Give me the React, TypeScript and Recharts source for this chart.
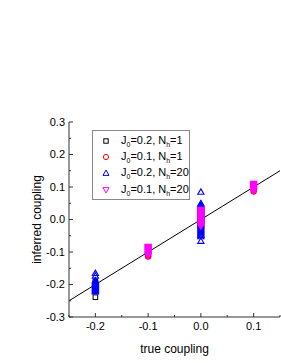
import React from 'react';
import { ScatterChart, Scatter, XAxis, YAxis, ReferenceLine } from 'recharts';

// ---- data ----
const xTicks = [-0.25, -0.2, -0.15, -0.1, -0.05, 0, 0.05, 0.1, 0.15];
const xMajor = [-0.2, -0.1, 0, 0.1];
const yTicks = [-0.3, -0.25, -0.2, -0.15, -0.1, -0.05, 0, 0.05, 0.1, 0.15, 0.2, 0.25, 0.3];
const yMajor = [-0.3, -0.2, -0.1, 0, 0.1, 0.2, 0.3];

// J0=0.2, Nh=1 (black squares)
const sqX = [-0.2, -0.2, -0.2, -0.2, -0.2, -0.2, -0.2, 0, 0, 0, 0, 0, 0];
const sqY = [-0.239, -0.214, -0.21, -0.206, -0.201, -0.196, -0.191, -0.03, -0.018, -0.006, 0.006, 0.018, 0.03];

// J0=0.1, Nh=1 (red circles)
const ciX = [-0.1, -0.1, -0.1, -0.1, -0.1, -0.1, -0.1, 0, 0, 0, 0, 0, 0.1, 0.1, 0.1, 0.1, 0.1];
const ciY = [-0.114, -0.11, -0.105, -0.1, -0.095, -0.09, -0.086, -0.02, -0.01, 0, 0.01, 0.02, 0.087, 0.092, 0.097, 0.102, 0.107];

// J0=0.2, Nh=20 (blue triangles)
const trX = [
  -0.2, -0.2, -0.2, -0.2, -0.2, -0.2, -0.2, -0.2, -0.2, -0.2, -0.2, -0.2, -0.2, -0.2, -0.2,
  0, 0, 0, 0, 0, 0, 0, 0, 0, 0, 0, 0, 0, 0, 0, 0, 0, 0, 0, 0, 0, 0, 0, 0, 0, 0, 0, 0, 0, 0, 0, 0, 0, 0, 0, 0, 0,
];
const trY = [
  -0.165, -0.173, -0.187, -0.19, -0.193, -0.196, -0.199, -0.202, -0.205, -0.208, -0.211, -0.214, -0.217, -0.22, -0.222,
  0.085, 0.05, 0.047, 0.044, 0.041, 0.038, 0.035, 0.032, 0.029, 0.026, 0.023, 0.02, 0.017, 0.014, 0.011, 0.008,
  0.005, 0.002, -0.001, -0.004, -0.007, -0.01, -0.013, -0.016, -0.019, -0.022, -0.025, -0.028, -0.031, -0.034,
  -0.037, -0.04, -0.043, -0.046, -0.048, -0.052, -0.066,
];

// J0=0.1, Nh=20 (magenta inverted triangles)
const itX = [
  -0.1, -0.1, -0.1, -0.1, -0.1, -0.1, -0.1, -0.1, -0.1, -0.1, -0.1,
  0, 0, 0, 0, 0, 0, 0, 0, 0, 0, 0, 0, 0, 0, 0, 0, 0, 0,
  0.1, 0.1, 0.1, 0.1, 0.1, 0.1, 0.1, 0.1, 0.1,
];
const itY = [
  -0.112, -0.109, -0.106, -0.103, -0.1, -0.097, -0.094, -0.091, -0.088, -0.086, -0.084,
  0.03, 0.027, 0.024, 0.021, 0.018, 0.015, 0.012, 0.009, 0.006, 0.003, 0, -0.003, -0.006, -0.009, -0.012, -0.015, -0.018, -0.021,
  0.11, 0.107, 0.104, 0.101, 0.098, 0.095, 0.092, 0.089, 0.086,
];

const lineEnds = [-0.25, 0.15];

const legendLabels = [
  { j: '0.2', n: '1' },
  { j: '0.1', n: '1' },
  { j: '0.2', n: '20' },
  { j: '0.1', n: '20' },
];

const toPts = (xs: number[], ys: number[]) => xs.map((x, i) => ({ x, y: ys[i] }));
const squares = toPts(sqX, sqY);
const circles = toPts(ciX, ciY);
const triangles = toPts(trX, trY);
const invTriangles = toPts(itX, itY);

const FONT = 'Arial, "Liberation Sans", sans-serif';
const BLACK = '#000000';
const RED = '#ff0000';
const BLUE = '#0000ff';
const MAGENTA = '#ff00ff';

// ---- markers ----
const Square = (p: any) => (
  <rect x={p.cx - 2.3} y={p.cy - 2.3} width={4.6} height={4.6} fill="none" stroke={BLACK} strokeWidth={1} />
);
const Circle = (p: any) => (
  <circle cx={p.cx} cy={p.cy} r={2.7} fill="none" stroke={RED} strokeWidth={1.1} />
);
const Tri = (p: any) => (
  <path d={`M${p.cx},${p.cy - 3} L${p.cx + 3.1},${p.cy + 2.4} L${p.cx - 3.1},${p.cy + 2.4} Z`} fill="none" stroke={BLUE} strokeWidth={1.1} />
);
const InvTri = (p: any) => (
  <path d={`M${p.cx},${p.cy + 3} L${p.cx + 3.1},${p.cy - 2.4} L${p.cx - 3.1},${p.cy - 2.4} Z`} fill="none" stroke={MAGENTA} strokeWidth={1.1} />
);

const near = (a: number, list: number[]) => list.some((v) => Math.abs(v - a) < 1e-9);

// ---- ticks ----
const LeftTick = (p: any) => {
  const v = p.payload.value;
  const major = near(v, yMajor);
  const ax = p.x + 4;
  return (
    <g>
      <line x1={ax} x2={ax + (major ? 4 : 2)} y1={p.y} y2={p.y} stroke="#333" strokeWidth={1} />
      {major && (
        <text x={p.x} y={p.y} dy="0.35em" textAnchor="end" fontSize={11} fontFamily={FONT} fill="#000">
          {v.toFixed(1)}
        </text>
      )}
    </g>
  );
};
const BottomTick = (p: any) => {
  const v = p.payload.value;
  const major = near(v, xMajor);
  const ay = p.y - 5;
  return (
    <g>
      <line x1={p.x} x2={p.x} y1={ay} y2={ay - (major ? 4 : 2)} stroke="#333" strokeWidth={1} />
      {major && (
        <text x={p.x} y={p.y} dy="0.71em" textAnchor="middle" fontSize={11} fontFamily={FONT} fill="#000">
          {v.toFixed(1)}
        </text>
      )}
    </g>
  );
};
const TopTick = (p: any) => {
  const v = p.payload.value;
  const major = near(v, xMajor);
  return <line x1={p.x} x2={p.x} y1={p.y} y2={p.y + (major ? 4 : 2)} stroke="#333" strokeWidth={1} />;
};

const Sub = ({ t }: { t: string }) => (
  <span style={{ fontSize: 7, position: 'relative', top: 3 }}>{t}</span>
);

const legendMarkers = [
  <rect key="a" x={2.8} y={2.8} width={4.4} height={4.4} fill="none" stroke={BLACK} />,
  <circle key="b" cx={5} cy={5} r={2.6} fill="none" stroke={RED} />,
  <path key="c" d="M5,2 L8,7.4 L2,7.4 Z" fill="none" stroke={BLUE} />,
  <path key="d" d="M5,8 L8,2.6 L2,2.6 Z" fill="none" stroke={MAGENTA} />,
];

export default function App() {
  return (
    <div style={{ position: 'absolute', left: 0, top: 0, width: 281, height: 363, background: '#fff', fontFamily: FONT }}>
      <ScatterChart width={281} height={363} margin={{ top: 122, right: 1, bottom: 0, left: 0 }}>
        <XAxis
          xAxisId="b"
          dataKey="x"
          type="number"
          domain={[-0.25, 0.15]}
          ticks={xTicks}
          interval={0}
          allowDataOverflow
          height={46}
          tickSize={0}
          tickMargin={5}
          tick={<BottomTick />}
          axisLine={{ stroke: '#333', strokeWidth: 1 }}
          tickLine={false}
          label={{ value: 'true coupling', position: 'insideBottom', offset: 10, style: { fontSize: 12, fontFamily: FONT, fill: '#000' } }}
        />
        <XAxis
          xAxisId="t"
          orientation="top"
          dataKey="x"
          type="number"
          domain={[-0.25, 0.15]}
          ticks={xTicks}
          interval={0}
          allowDataOverflow
          height={0}
          tickSize={0}
          tickMargin={0}
          tick={<TopTick />}
          axisLine={{ stroke: '#333', strokeWidth: 1 }}
          tickLine={false}
        />
        <YAxis
          yAxisId="l"
          dataKey="y"
          type="number"
          domain={[-0.3, 0.3]}
          ticks={yTicks}
          interval={0}
          allowDataOverflow
          width={69}
          tickSize={0}
          tickMargin={4}
          tick={<LeftTick />}
          axisLine={{ stroke: '#333', strokeWidth: 1 }}
          tickLine={false}
          label={{ value: 'inferred coupling', angle: -90, position: 'insideLeft', offset: 37, style: { textAnchor: 'middle', fontSize: 12, fontFamily: FONT, fill: '#000' } }}
        />
        <ReferenceLine
          xAxisId="b"
          yAxisId="l"
          segment={[{ x: lineEnds[0], y: lineEnds[0] }, { x: lineEnds[1], y: lineEnds[1] }]}
          stroke="#000"
          strokeWidth={1}
          ifOverflow="visible"
        />
        <Scatter xAxisId="b" yAxisId="l" data={squares} shape={Square} isAnimationActive={false} />
        <Scatter xAxisId="b" yAxisId="l" data={circles} shape={Circle} isAnimationActive={false} />
        <Scatter xAxisId="b" yAxisId="l" data={triangles} shape={Tri} isAnimationActive={false} />
        <Scatter xAxisId="b" yAxisId="l" data={invTriangles} shape={InvTri} isAnimationActive={false} />
      </ScatterChart>
      <div
        style={{
          position: 'absolute',
          left: 92,
          top: 130,
          width: 98,
          height: 70,
          border: '1px solid #888',
          background: '#fff',
          boxSizing: 'border-box',
          fontSize: 11,
          color: '#000',
          paddingTop: 2,
        }}
      >
        {legendLabels.map((l, i) => (
          <div key={i} style={{ display: 'flex', alignItems: 'center', height: 16.2, whiteSpace: 'nowrap' }}>
            <svg width={10} height={10} style={{ marginLeft: 8, marginRight: 10 }}>
              {legendMarkers[i]}
            </svg>
            <span style={{ lineHeight: '12px' }}>
              J<Sub t="0" />=<span>{l.j}</span>, N<Sub t="h" />={l.n}
            </span>
          </div>
        ))}
      </div>
    </div>
  );
}
